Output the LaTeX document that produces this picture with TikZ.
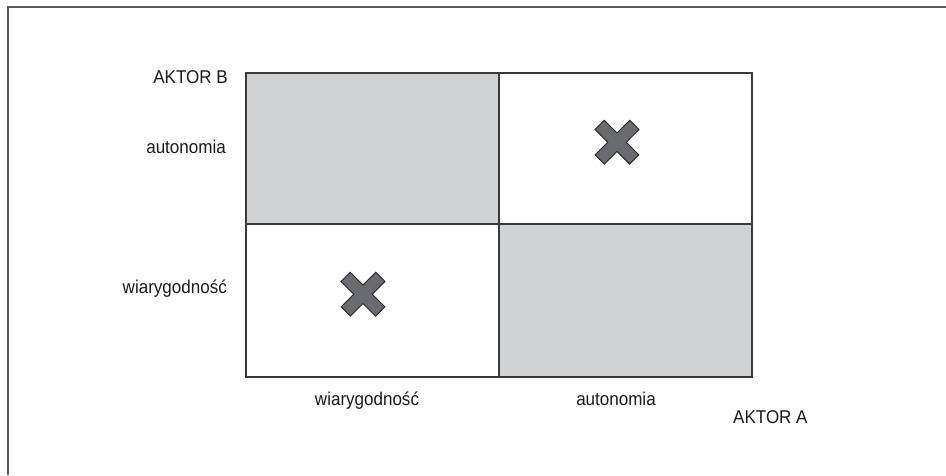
\documentclass[tikz,border=0pt]{standalone}
\usepackage{fontspec}
\setmainfont{Liberation Sans}[FakeStretch=0.92]
\usetikzlibrary{calc}
\definecolor{cellgray}{HTML}{D1D2D4}
\definecolor{crossgray}{HTML}{6A6B6E}
\definecolor{linegray}{HTML}{3A3A3A}
\definecolor{framegray}{HTML}{5A5A5A}
\tikzset{
  cellbox/.style={draw=linegray, line width=1.5pt, inner sep=0pt, outer sep=0pt},
  lbl/.style={inner sep=0pt, font=\fontsize{18.5}{22}\selectfont, text=black!90},
  crossmark/.pic={
    \draw[fill=crossgray, draw=black!85, line width=0.9pt, line join=miter]
      (0,-12) -- ++(-45:18) -- ++(45:13) -- ++(135:18) -- ++(45:18) -- ++(135:13) -- ++(225:18) -- ++(135:18) -- ++(225:13) -- ++(315:18) -- ++(225:18) -- ++(315:13) -- cycle;
  }
}
\begin{document}
\begin{tikzpicture}[x=1pt,y=-1pt]
\useasboundingbox (0,0) rectangle (946,475);
% outer frame (open at right and bottom)
\draw[framegray, line width=1.6pt] (8,475) -- (8,7) -- (946,7);
% cells
\node[cellbox, fill=cellgray, minimum width=253pt, minimum height=151pt, anchor=north west] (c11) at (246,73) {};
\node[cellbox, fill=white, minimum width=253pt, minimum height=151pt, anchor=north west] (c12) at (499,73) {};
\node[cellbox, fill=white, minimum width=253pt, minimum height=153pt, anchor=north west] (c21) at (246,224) {};
\node[cellbox, fill=cellgray, minimum width=253pt, minimum height=153pt, anchor=north west] (c22) at (499,224) {};
% crosses
\pic at (617,145) {crossmark};
\pic at (363,297) {crossmark};
% labels
\node[lbl, anchor=base east] (ab) at (228,83) {AKTOR B};
\node[lbl, anchor=base east] (la) at (226,153) {autonomia};
\node[lbl, anchor=base east] (lw) at (227,293) {wiarygodność};
\node[lbl, anchor=base] (bw) at (367,405) {wiarygodność};
\node[lbl, anchor=base] (ba) at (616,405) {autonomia};
\node[lbl, anchor=base west] (aa) at (733,423) {AKTOR A};
\end{tikzpicture}
\end{document}
